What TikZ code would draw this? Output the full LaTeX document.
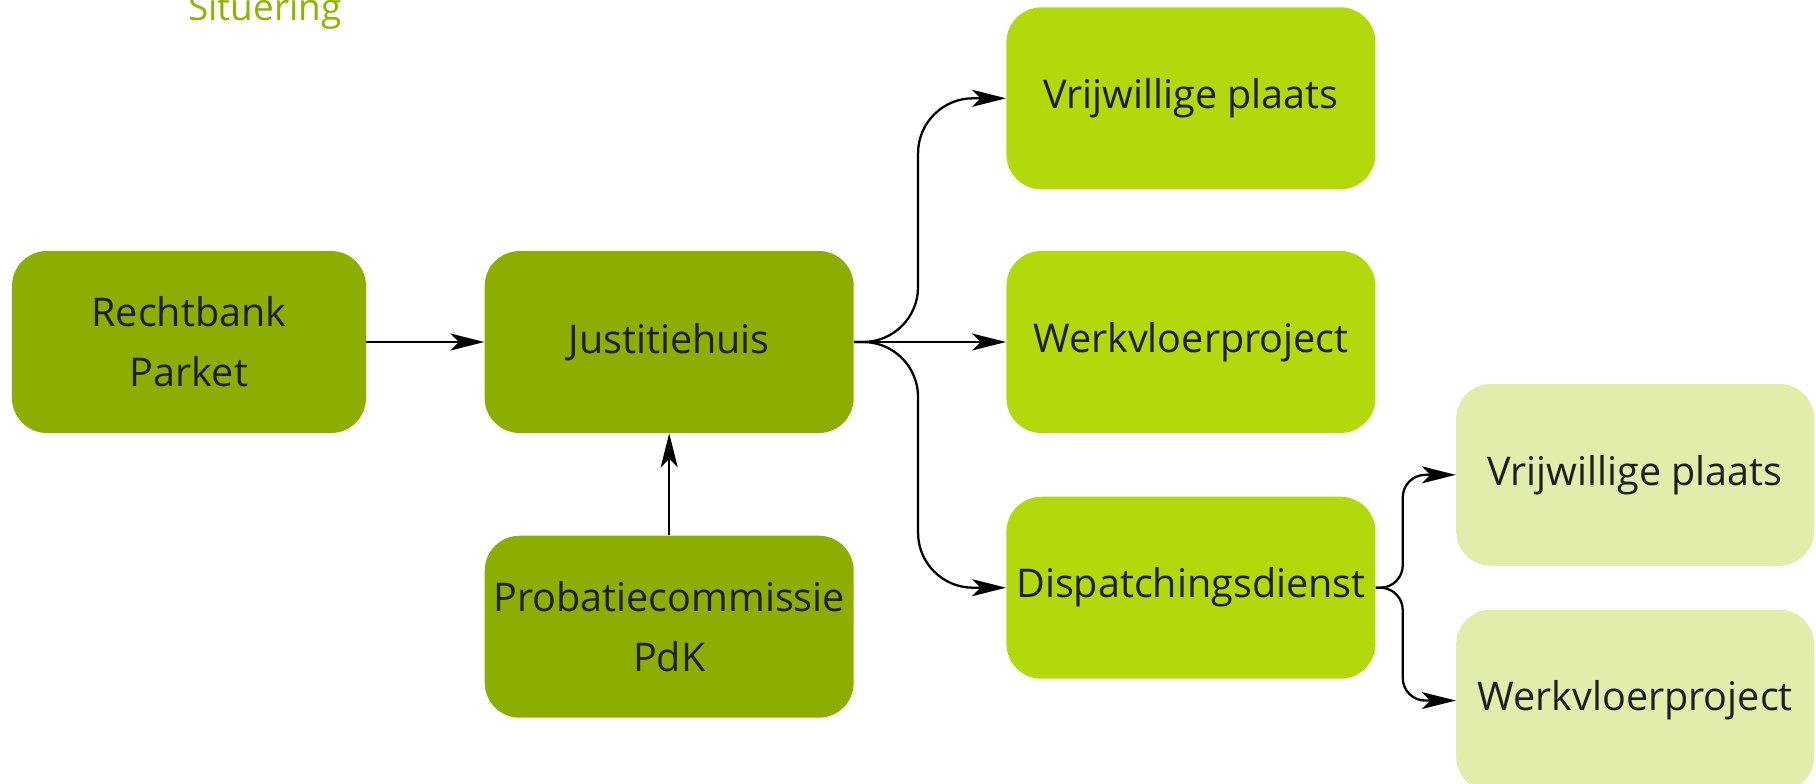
\documentclass[tikz,border=0pt]{standalone}
\usepackage{fontspec}
\setmainfont{Open Sans}
\usepackage{tikz}
\usetikzlibrary{positioning,arrows.meta}
\definecolor{darkolive}{RGB}{141,174,0}
\definecolor{limegreen}{RGB}{179,217,12}
\definecolor{palelime}{RGB}{225,237,170}
\definecolor{titlegreen}{RGB}{140,180,0}
\definecolor{boxtext}{RGB}{30,30,30}
\tikzset{
  darkbox/.style={rounded corners=0.7cm, fill=darkolive, align=center,
    minimum height=3.64cm, minimum width=7.38cm, text=boxtext,
    font=\fontsize{22.5}{34}\selectfont},
  limebox/.style={darkbox, fill=limegreen},
  palebox/.style={darkbox, fill=palelime, minimum width=7.16cm},
  arrow/.style={-{Stealth[length=6.8mm, width=3.4mm, inset=1.7mm]}, line width=1.3pt}
}
\begin{document}
\begin{tikzpicture}[node distance=2.36cm]
  \useasboundingbox (0,0) rectangle (36.32,-15.68);

  \node (title) [anchor=base west, text=titlegreen, font=\fontsize{21}{24}\selectfont] at (3.64,-0.42) {Situering};

  \node (rb) [darkbox, minimum width=7.08cm] at (3.78,-6.84) {Rechtbank\\Parket};
  \node (jus) [darkbox, right=of rb] {Justitiehuis};
  \node (prob) [darkbox, below=2.04cm of jus] {Probatiecommissie\\PdK};
  \node (wp) [limebox, right=3.04cm of jus] {Werkvloerproject};
  \node (vp) [limebox, above=1.22cm of wp] {Vrijwillige plaats};
  \node (dd) [limebox, below=1.26cm of wp] {Dispatchingsdienst};
  \node (vp2) [palebox, right=1.6cm of dd.east, anchor=south west, yshift=0.43cm] {Vrijwillige plaats};
  \node (wp2) [palebox, right=1.6cm of dd.east, anchor=north west, yshift=-0.43cm] {Werkvloerproject};

  \draw[arrow] (rb) -- (jus);
  \draw[arrow] (prob) -- (jus);

  % vertakking justitiehuis
  \coordinate (fork) at ([xshift=1.28cm]jus.east);
  \draw[arrow, rounded corners=1.1cm] (jus.east) -- (fork) |- (vp.west);
  \draw[arrow] (jus.east) -- (wp.west);
  \draw[arrow, rounded corners=1.1cm] (jus.east) -- (fork) |- (dd.west);

  % vertakking dispatching
  \coordinate (split) at ([xshift=0.54cm]dd.east);
  \draw[arrow, rounded corners=0.45cm] (dd.east) -- (split) |- (vp2.west);
  \draw[arrow, rounded corners=0.45cm] (dd.east) -- (split) |- (wp2.west);

\end{tikzpicture}
\end{document}
